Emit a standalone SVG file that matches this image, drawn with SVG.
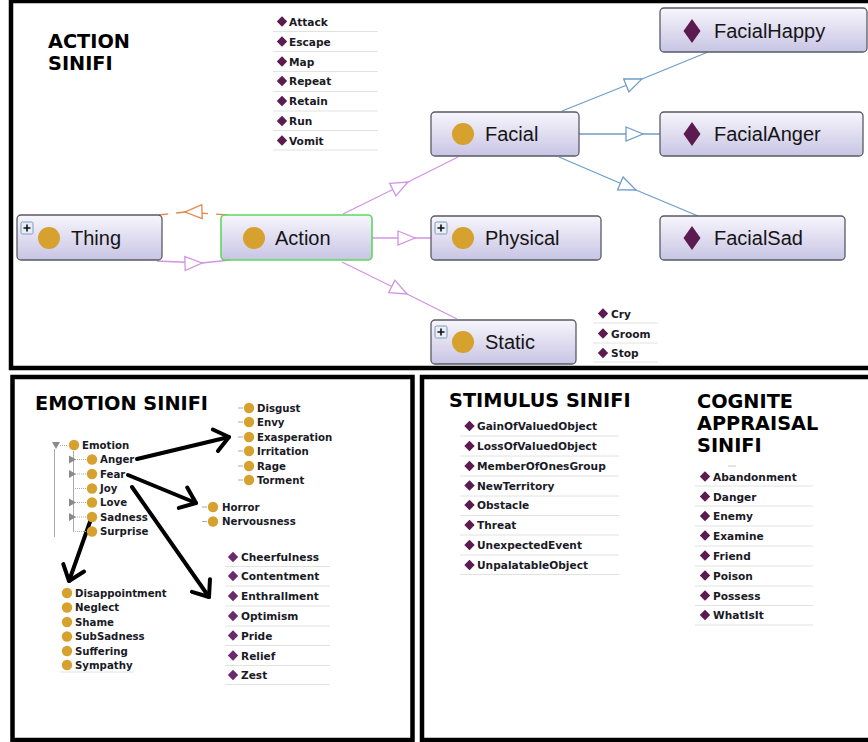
<svg xmlns="http://www.w3.org/2000/svg" width="868" height="742" viewBox="0 0 868 742">
<defs>
<style>
.frame{fill:none;stroke:#000;stroke-width:4.5}
.node{fill:url(#ng);stroke:#5a5a66;stroke-width:1.3}
.act{stroke:#5ed85e;stroke-width:1.6}
.nl{font-family:"Liberation Sans",Arial,sans-serif;font-size:20px;fill:#151515}
.hd{font-family:"DejaVu Sans",Verdana,sans-serif;font-weight:bold;font-size:19.3px;fill:#000}
.li{font-family:"DejaVu Sans",Verdana,sans-serif;font-weight:bold;font-size:10.6px;fill:#1a1a26}
.tr{font-family:"DejaVu Sans",Verdana,sans-serif;font-weight:bold;font-size:10.2px;fill:#1a1a26}
.ul{stroke:#e2e2e2;stroke-width:1}
.cls{fill:#d6a12e}
.ind{fill:#5b1a50}
.pink{fill:none;stroke:#d293e2;stroke-width:1.3;marker-mid:url(#triP)}
.blue{fill:none;stroke:#6e9ec8;stroke-width:1.3;marker-mid:url(#triB)}
.orng{fill:none;stroke:#e0874a;stroke-width:1.3;stroke-dasharray:12 8;marker-mid:url(#triO)}
.blk{fill:none;stroke:#000;stroke-width:4;stroke-linecap:round;marker-end:url(#chev)}
.tree{stroke:#aaa;stroke-width:1;fill:none}
.tri{fill:#8a8a8a}
</style>
<linearGradient id="ng" x1="0" y1="0" x2="0" y2="1">
<stop offset="0" stop-color="#f7f6fc"/>
<stop offset="1" stop-color="#c8c4e4"/>
</linearGradient>
<marker id="triP" markerUnits="userSpaceOnUse" orient="auto" refX="17" refY="7" markerWidth="20" markerHeight="16" overflow="visible">
<path d="M0,0 L17,7 L0,14 Z" fill="#fff" stroke="#d293e2" stroke-width="1.3"/>
</marker>
<marker id="triB" markerUnits="userSpaceOnUse" orient="auto" refX="17" refY="7" markerWidth="20" markerHeight="16" overflow="visible">
<path d="M0,0 L17,7 L0,14 Z" fill="#fff" stroke="#6e9ec8" stroke-width="1.3"/>
</marker>
<marker id="triO" markerUnits="userSpaceOnUse" orient="auto" refX="17" refY="7" markerWidth="20" markerHeight="16" overflow="visible">
<path d="M0,0 L17,7 L0,14 Z" fill="#fff" stroke="#e0874a" stroke-width="1.3"/>
</marker>
<marker id="chev" markerUnits="userSpaceOnUse" orient="auto" refX="0" refY="0" markerWidth="30" markerHeight="30" overflow="visible">
<path d="M-14,-11 L0,0 L-14,11" fill="none" stroke="#000" stroke-width="4" stroke-linecap="round" stroke-linejoin="round"/>
</marker>
<path id="dm" d="M0,-5.2 L5.2,0 L0,5.2 L-5.2,0 Z"/>
<path id="bigdm" d="M0,-12 L8.5,0 L0,12 L-8.5,0 Z"/>
<g id="plus">
<rect x="0" y="0" width="12" height="12" rx="1.5" fill="#e8eef6" stroke="#7a9cc0" stroke-width="1"/>
<path d="M6,2.5 V9.5 M2.5,6 H9.5" stroke="#111" stroke-width="1.6"/>
</g>
</defs>

<rect width="868" height="742" fill="#fff"/>

<!-- frames -->
<rect class="frame" x="11" y="1" width="875" height="367"/>
<rect class="frame" x="12.5" y="377" width="400" height="363"/>
<rect class="frame" x="422" y="377" width="470" height="363"/>

<!-- headings -->
<text class="hd" x="48" y="48">ACTION</text>
<text class="hd" x="48" y="70">SINIFI</text>
<text class="hd" x="35" y="410">EMOTION SINIFI</text>
<text class="hd" x="449" y="407">STIMULUS SINIFI</text>
<text class="hd" x="697" y="408">COGNITE</text>
<text class="hd" x="697" y="430">APPRAISAL</text>
<text class="hd" x="697" y="452">SINIFI</text>

<!-- connectors -->
<g id="connectors">
<path class="orng" d="M228,215 L185,212 L159,215"/>
<path class="pink" d="M157,261 L202,263 L230,260"/>
<path class="pink" d="M343,214 L408,182 L458,157"/>
<path class="pink" d="M372,238 L415,238 L431,238"/>
<path class="pink" d="M342,262 L407,294 L457,319"/>
<path class="blue" d="M562,111 L642,79 L708,52"/>
<path class="blue" d="M579,134 L643,134 L660,134"/>
<path class="blue" d="M559,157 L636,190 L698,216"/>
<path class="blk" d="M137,459 L229,437"/>
<path class="blk" d="M128,475 L196,503"/>
<path class="blk" d="M132,487 L209,597"/>
<path class="blk" d="M91,519 L69,581"/>
</g>

<!-- nodes -->
<g id="node-thing">
<rect class="node" x="17" y="215" width="145" height="45" rx="4"/>
<use href="#plus" x="21" y="222"/>
<circle class="cls" cx="49" cy="238" r="11"/>
<text class="nl" x="71" y="245">Thing</text>
</g>
<g id="node-action">
<rect class="node act" x="221" y="215" width="151" height="45" rx="4"/>
<circle class="cls" cx="254" cy="238" r="11"/>
<text class="nl" x="275" y="245">Action</text>
</g>
<g id="node-facial">
<rect class="node" x="431" y="112" width="148" height="44" rx="4"/>
<circle class="cls" cx="463" cy="134" r="11"/>
<text class="nl" x="485" y="141">Facial</text>
</g>
<g id="node-physical">
<rect class="node" x="431" y="216" width="170" height="44" rx="4"/>
<use href="#plus" x="435" y="222"/>
<circle class="cls" cx="463" cy="238" r="11"/>
<text class="nl" x="485" y="245">Physical</text>
</g>
<g id="node-static">
<rect class="node" x="431" y="320" width="145" height="44" rx="4"/>
<use href="#plus" x="435" y="326"/>
<circle class="cls" cx="463" cy="342" r="11"/>
<text class="nl" x="485" y="349">Static</text>
</g>
<g id="node-facialhappy">
<rect class="node" x="660" y="8" width="207" height="44" rx="4"/>
<use href="#bigdm" x="692" y="31" class="ind"/>
<text class="nl" x="714" y="38">FacialHappy</text>
</g>
<g id="node-facialanger">
<rect class="node" x="660" y="112" width="203" height="44" rx="4"/>
<use href="#bigdm" x="692" y="134" class="ind"/>
<text class="nl" x="714" y="141">FacialAnger</text>
</g>
<g id="node-facialsad">
<rect class="node" x="660" y="216" width="185" height="44" rx="4"/>
<use href="#bigdm" x="692" y="238" class="ind"/>
<text class="nl" x="714" y="245">FacialSad</text>
</g>

<!-- action individuals list -->
<g id="list-action">
<g class="ul">
<line x1="273" y1="31.5" x2="378" y2="31.5"/><line x1="273" y1="51.5" x2="378" y2="51.5"/>
<line x1="273" y1="71.5" x2="378" y2="71.5"/><line x1="273" y1="91.5" x2="378" y2="91.5"/>
<line x1="273" y1="111" x2="378" y2="111"/><line x1="273" y1="130.5" x2="378" y2="130.5"/>
<line x1="273" y1="150" x2="378" y2="150"/>
</g>
<g class="ind">
<use href="#dm" x="282" y="21.5"/><use href="#dm" x="282" y="41.5"/><use href="#dm" x="282" y="61.5"/>
<use href="#dm" x="282" y="81"/><use href="#dm" x="282" y="101"/><use href="#dm" x="282" y="121"/>
<use href="#dm" x="282" y="140.5"/>
</g>
<text class="li" x="289" y="25.5">Attack</text>
<text class="li" x="289" y="45.5">Escape</text>
<text class="li" x="289" y="65.5">Map</text>
<text class="li" x="289" y="85">Repeat</text>
<text class="li" x="289" y="105">Retain</text>
<text class="li" x="289" y="125">Run</text>
<text class="li" x="289" y="144.5">Vomit</text>
</g>

<!-- static individuals list -->
<g id="list-static">
<g class="ul">
<line x1="593" y1="323" x2="658" y2="323"/><line x1="593" y1="343" x2="658" y2="343"/><line x1="593" y1="362" x2="658" y2="362"/>
</g>
<g class="ind">
<use href="#dm" x="603" y="313.5"/><use href="#dm" x="603" y="333.5"/><use href="#dm" x="603" y="353"/>
</g>
<text class="li" x="611" y="317.5">Cry</text>
<text class="li" x="611" y="337.5">Groom</text>
<text class="li" x="611" y="357">Stop</text>
</g>

<!-- emotion tree -->
<g id="tree-emotion">
<line class="tree" x1="54.5" y1="449" x2="54.5" y2="537" stroke="#bbb"/>
<line class="tree" x1="73.5" y1="451" x2="73.5" y2="531"/>
<path class="tree" d="M60,445.5 H68 M73,459.5 H87 M73,474 H87 M73,488.5 H87 M73,502.5 H87 M73,517 H87 M73,531.5 H87" stroke-dasharray="1 1"/>
<path class="tri" d="M52,442 L60,442 L56,449 Z"/>
<path class="tri" d="M69,455.5 L76,459.5 L69,463.5 Z"/>
<path class="tri" d="M69,470 L76,474 L69,478 Z"/>
<path class="tri" d="M69,498.5 L76,502.5 L69,506.5 Z"/>
<path class="tri" d="M69,513 L76,517 L69,521 Z"/>
<circle class="cls" cx="74" cy="445" r="5.2"/>
<text class="tr" x="82" y="448.5">Emotion</text>
<circle class="cls" cx="92" cy="459.5" r="5.2"/><text class="tr" x="100" y="463">Anger</text>
<circle class="cls" cx="92" cy="474" r="5.2"/><text class="tr" x="100" y="477.5">Fear</text>
<circle class="cls" cx="92" cy="488.5" r="5.2"/><text class="tr" x="100" y="492">Joy</text>
<circle class="cls" cx="92" cy="502.5" r="5.2"/><text class="tr" x="100" y="506">Love</text>
<circle class="cls" cx="92" cy="517" r="5.2"/><text class="tr" x="100" y="520.5">Sadness</text>
<circle class="cls" cx="92" cy="531.5" r="5.2"/><text class="tr" x="100" y="535">Surprise</text>
</g>

<g id="list-anger">
<path class="tree" d="M238,408 H243 M238,422 H243 M238,437 H243 M238,451 H243 M238,466 H243 M238,480 H243"/>
<circle class="cls" cx="249" cy="408" r="5.2"/><text class="tr" x="257" y="411.5">Disgust</text>
<circle class="cls" cx="249" cy="422" r="5.2"/><text class="tr" x="257" y="425.5">Envy</text>
<circle class="cls" cx="249" cy="437" r="5.2"/><text class="tr" x="257" y="440.5">Exasperation</text>
<circle class="cls" cx="249" cy="451" r="5.2"/><text class="tr" x="257" y="454.5">Irritation</text>
<circle class="cls" cx="249" cy="466" r="5.2"/><text class="tr" x="257" y="469.5">Rage</text>
<circle class="cls" cx="249" cy="480" r="5.2"/><text class="tr" x="257" y="483.5">Torment</text>
</g>

<g id="list-fear">
<path class="tree" d="M202,507 H207 M202,521.5 H207"/>
<circle class="cls" cx="213" cy="507" r="5.2"/><text class="tr" x="222" y="510.5">Horror</text>
<circle class="cls" cx="213" cy="521.5" r="5.2"/><text class="tr" x="222" y="525">Nervousness</text>
</g>

<g id="list-sadness">
<line class="ul" x1="60" y1="672" x2="134" y2="672"/>
<circle class="cls" cx="67" cy="593" r="5.2"/><text class="tr" x="75" y="596.5">Disappointment</text>
<circle class="cls" cx="67" cy="607.5" r="5.2"/><text class="tr" x="75" y="611">Neglect</text>
<circle class="cls" cx="67" cy="622" r="5.2"/><text class="tr" x="75" y="625.5">Shame</text>
<circle class="cls" cx="67" cy="636.5" r="5.2"/><text class="tr" x="75" y="640">SubSadness</text>
<circle class="cls" cx="67" cy="651" r="5.2"/><text class="tr" x="75" y="654.5">Suffering</text>
<circle class="cls" cx="67" cy="665" r="5.2"/><text class="tr" x="75" y="668.5">Sympathy</text>
</g>

<g id="list-joy">
<g class="ul">
<line x1="225" y1="566.5" x2="330" y2="566.5"/><line x1="225" y1="586" x2="330" y2="586"/>
<line x1="225" y1="606" x2="330" y2="606"/><line x1="225" y1="626" x2="330" y2="626"/>
<line x1="225" y1="645.5" x2="330" y2="645.5"/><line x1="225" y1="665.5" x2="330" y2="665.5"/>
<line x1="225" y1="684.5" x2="330" y2="684.5"/>
</g>
<g fill="#6a2a6c">
<use href="#dm" x="233" y="557"/><use href="#dm" x="233" y="576"/><use href="#dm" x="233" y="596"/>
<use href="#dm" x="233" y="616"/><use href="#dm" x="233" y="635.5"/><use href="#dm" x="233" y="655.5"/>
<use href="#dm" x="233" y="675"/>
</g>
<text class="li" x="241" y="561">Cheerfulness</text>
<text class="li" x="241" y="580">Contentment</text>
<text class="li" x="241" y="600">Enthrallment</text>
<text class="li" x="241" y="620">Optimism</text>
<text class="li" x="241" y="639.5">Pride</text>
<text class="li" x="241" y="659.5">Relief</text>
<text class="li" x="241" y="679">Zest</text>
</g>

<!-- stimulus list -->
<g id="list-stimulus">
<g class="ul">
<line x1="460" y1="436" x2="619" y2="436"/><line x1="460" y1="456" x2="619" y2="456"/>
<line x1="460" y1="476" x2="619" y2="476"/><line x1="460" y1="496" x2="619" y2="496"/>
<line x1="460" y1="515.5" x2="619" y2="515.5"/><line x1="460" y1="535" x2="619" y2="535"/>
<line x1="460" y1="555" x2="619" y2="555"/><line x1="460" y1="574.5" x2="619" y2="574.5"/>
</g>
<g class="ind">
<use href="#dm" x="469.5" y="426"/><use href="#dm" x="469.5" y="446"/><use href="#dm" x="469.5" y="466"/>
<use href="#dm" x="469.5" y="485.5"/><use href="#dm" x="469.5" y="505"/><use href="#dm" x="469.5" y="525"/>
<use href="#dm" x="469.5" y="545"/><use href="#dm" x="469.5" y="565"/>
</g>
<text class="li" x="477" y="430">GainOfValuedObject</text>
<text class="li" x="477" y="450">LossOfValuedObject</text>
<text class="li" x="477" y="470">MemberOfOnesGroup</text>
<text class="li" x="477" y="489.5">NewTerritory</text>
<text class="li" x="477" y="509">Obstacle</text>
<text class="li" x="477" y="529">Threat</text>
<text class="li" x="477" y="549">UnexpectedEvent</text>
<text class="li" x="477" y="569">UnpalatableObject</text>
</g>

<!-- cognite appraisal list -->
<g id="list-cognite">
<line x1="728" y1="466" x2="736" y2="466" stroke="#c8c8c8" stroke-width="1"/>
<g class="ul">
<line x1="695" y1="486" x2="813" y2="486"/><line x1="695" y1="506" x2="813" y2="506"/>
<line x1="695" y1="526" x2="813" y2="526"/><line x1="695" y1="546" x2="813" y2="546"/>
<line x1="695" y1="566" x2="813" y2="566"/><line x1="695" y1="586" x2="813" y2="586"/>
<line x1="695" y1="605.5" x2="813" y2="605.5"/><line x1="695" y1="625" x2="813" y2="625"/>
</g>
<g class="ind">
<use href="#dm" x="705" y="476.5"/><use href="#dm" x="705" y="496.5"/><use href="#dm" x="705" y="516"/>
<use href="#dm" x="705" y="535.5"/><use href="#dm" x="705" y="555.5"/><use href="#dm" x="705" y="575.5"/>
<use href="#dm" x="705" y="595.5"/><use href="#dm" x="705" y="615"/>
</g>
<text class="li" x="713" y="480.5">Abandonment</text>
<text class="li" x="713" y="500.5">Danger</text>
<text class="li" x="713" y="520">Enemy</text>
<text class="li" x="713" y="539.5">Examine</text>
<text class="li" x="713" y="559.5">Friend</text>
<text class="li" x="713" y="579.5">Poison</text>
<text class="li" x="713" y="599.5">Possess</text>
<text class="li" x="713" y="619">WhatIsIt</text>
</g>
</svg>
